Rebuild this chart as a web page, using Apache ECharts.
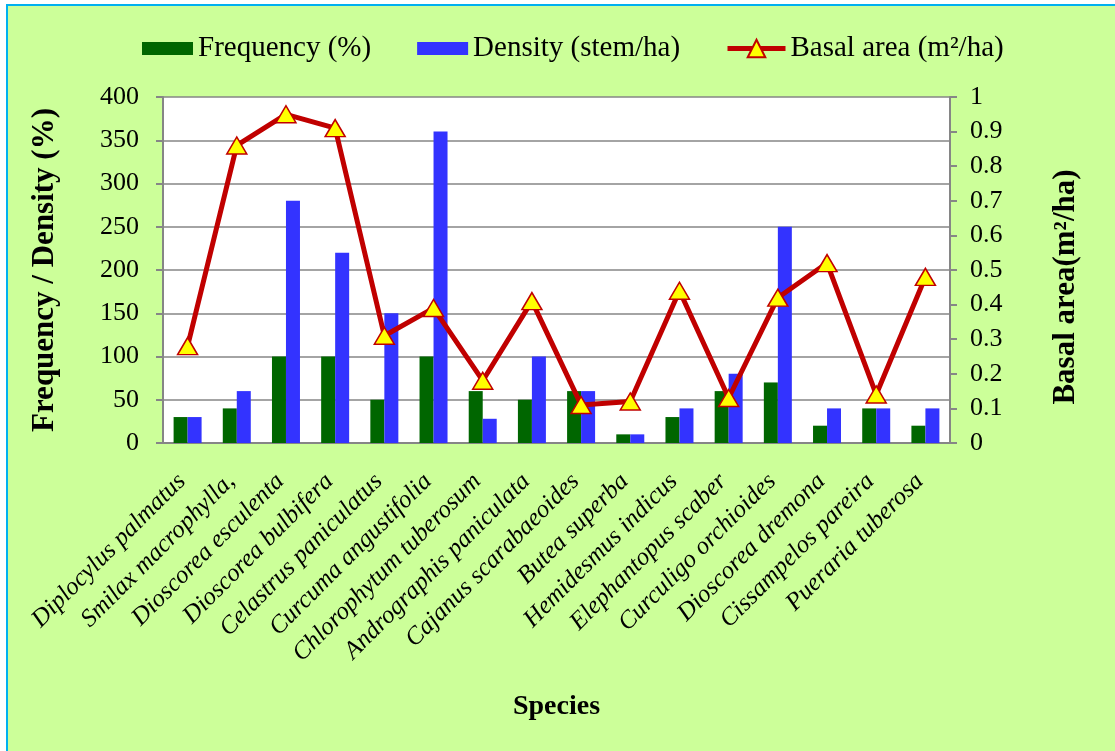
<!DOCTYPE html>
<html>
<head>
<meta charset="utf-8">
<script src="https://cdn.jsdelivr.net/npm/echarts@6/dist/echarts.min.js"></script>
<style>
  html, body { margin: 0; padding: 0; background: #ffffff; }
  #frame {
    position: absolute; left: 6px; top: 4px; width: 1109px; height: 747px;
    background: #CCFF99; border-left: 2px solid #00B0F0; border-top: 2px solid #00B0F0;
    box-sizing: border-box;
  }
  #chart { position: absolute; left: 0; top: 0; width: 1115px; height: 751px; }
</style>
</head>
<body>
<div id="frame"></div>
<div id="chart"></div>
<script>
// Species sampled
const species = [
  'Diplocylus palmatus', 'Smilax macrophylla,', 'Dioscorea esculenta', 'Dioscorea bulbifera',
  'Celastrus paniculatus', 'Curcuma angustifolia', 'Chlorophytum tuberosum', 'Andrographis paniculata',
  'Cajanus scarabaeoides', 'Butea superba', 'Hemidesmus indicus', 'Elephantopus scaber',
  'Curculigo orchioides', 'Dioscorea dremona', 'Cissampelos pareira', 'Pueraria tuberosa'
];
// Frequency (%)
const frequency = [30, 40, 100, 100, 50, 100, 60, 50, 60, 10, 30, 60, 70, 20, 40, 20];
// Density (stem/ha)
const density = [30, 60, 280, 220, 150, 360, 28, 100, 60, 10, 40, 80, 250, 40, 40, 40];
// Basal area (m²/ha)
const basalArea = [0.28, 0.86, 0.95, 0.91, 0.31, 0.39, 0.18, 0.41, 0.11, 0.12, 0.44, 0.13, 0.42, 0.52, 0.14, 0.48];

const FONT = 'Liberation Serif';
const AXIS_GREY = '#868686';
const legendText = { fontFamily: FONT, fontSize: 29, color: '#000' };

const chart = echarts.init(document.getElementById('chart'), null, { renderer: 'canvas' });
chart.setOption({
  backgroundColor: 'transparent',
  animation: false,
  textStyle: { fontFamily: FONT, color: '#000' },
  legend: [
    {
      left: 137, top: 29,
      itemGap: 46,
      itemWidth: 51, itemHeight: 13,
      textStyle: legendText,
      data: [
        { name: 'Frequency (%)', icon: 'rect' },
        { name: 'Density (stem/ha)', icon: 'rect' }
      ]
    },
    {
      left: 720, top: 29,
      itemWidth: 58, itemHeight: 22,
      textStyle: legendText,
      lineStyle: { width: 5, color: '#C00000' },
      data: [{ name: 'Basal area (m²/ha)' }]
    }
  ],
  grid: {
    left: 163, right: 165, top: 97, bottom: 308,
    show: true, backgroundColor: '#ffffff', borderWidth: 0
  },
  xAxis: {
    type: 'category',
    data: species,
    boundaryGap: true,
    name: 'Species',
    nameLocation: 'middle',
    nameGap: 250,
    nameTextStyle: { fontFamily: FONT, fontSize: 28, fontWeight: 'bold', color: '#000' },
    axisLine: { lineStyle: { color: AXIS_GREY, width: 2 } },
    axisTick: { alignWithLabel: false, length: 7, lineStyle: { color: AXIS_GREY, width: 2 } },
    axisLabel: {
      interval: 0, rotate: 45, margin: 29, padding: [0, 8, 0, 0],
      fontFamily: FONT, fontSize: 25, fontStyle: 'italic', color: '#000'
    }
  },
  yAxis: [
    {
      type: 'value', min: 0, max: 400, interval: 50,
      name: 'Frequency / Density (%)',
      nameLocation: 'middle', nameRotate: 90, nameGap: 103,
      nameTextStyle: { fontFamily: FONT, fontSize: 31, fontWeight: 'bold', color: '#000' },
      axisLine: { show: true, lineStyle: { color: AXIS_GREY, width: 2 } },
      axisTick: { show: true, length: 7, lineStyle: { color: AXIS_GREY, width: 2 } },
      axisLabel: { margin: 24, fontFamily: FONT, fontSize: 26, color: '#000' },
      splitLine: { show: true, lineStyle: { color: AXIS_GREY, width: 1.5 } }
    },
    {
      type: 'value', min: 0, max: 1, interval: 0.1,
      name: 'Basal area(m²/ha)',
      nameLocation: 'middle', nameRotate: 90, nameGap: 100,
      nameTextStyle: {
        fontFamily: FONT, fontSize: 31, fontWeight: 'bold', color: '#000',
        padding: [0, 34, 0, 0]
      },
      axisLine: { show: true, lineStyle: { color: AXIS_GREY, width: 2 } },
      axisTick: { show: true, length: 7, lineStyle: { color: AXIS_GREY, width: 2 } },
      axisLabel: { margin: 20, fontFamily: FONT, fontSize: 26, color: '#000' },
      splitLine: { show: false }
    }
  ],
  series: [
    {
      name: 'Frequency (%)', type: 'bar', yAxisIndex: 0,
      data: frequency, barWidth: 14, barGap: '0%',
      itemStyle: { color: '#006600' }
    },
    {
      name: 'Density (stem/ha)', type: 'bar', yAxisIndex: 0,
      data: density, barWidth: 14, barGap: '0%',
      itemStyle: { color: '#3333FF' }
    },
    {
      name: 'Basal area (m²/ha)', type: 'line', yAxisIndex: 1,
      data: basalArea, z: 5,
      symbol: 'triangle', symbolSize: [20, 17],
      lineStyle: { color: '#C00000', width: 5 },
      itemStyle: { color: '#FFFF00', borderColor: '#C00000', borderWidth: 1.5 }
    }
  ]
});
</script>
</body>
</html>
